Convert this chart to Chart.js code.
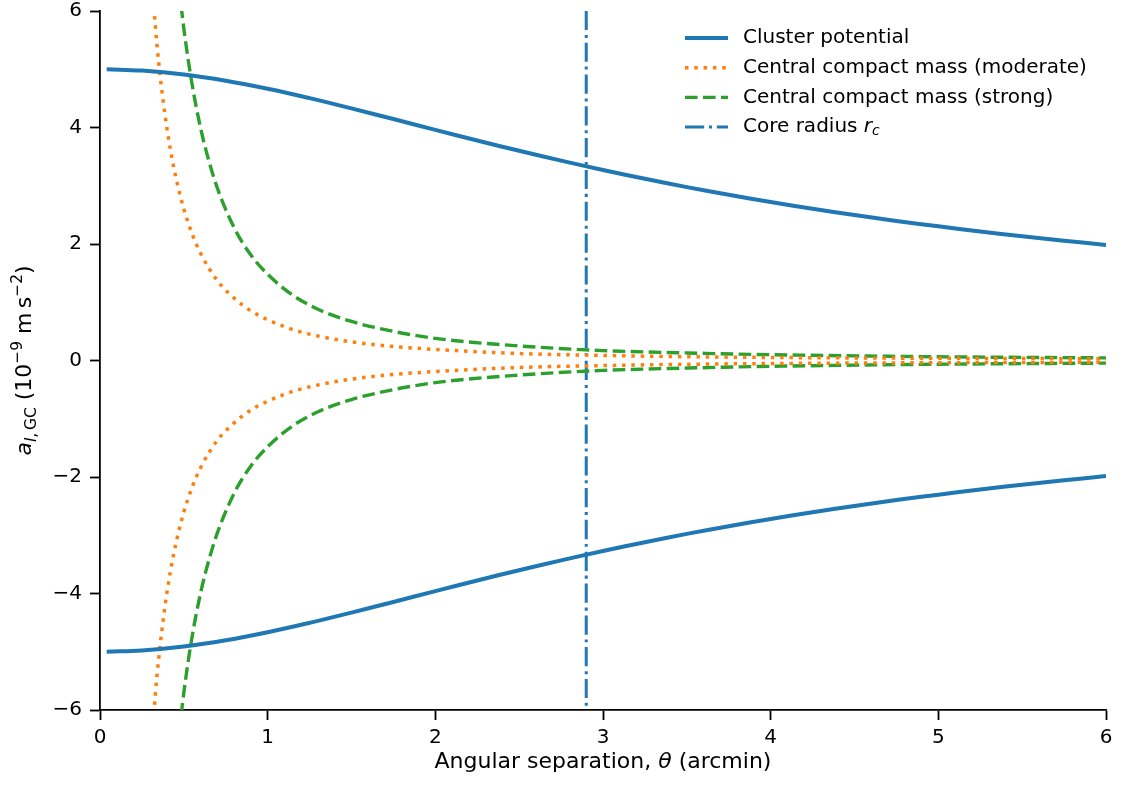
<!DOCTYPE html>
<html>
<head>
<meta charset="utf-8">
<title>Cluster acceleration vs angular separation</title>
<script src="https://cdn.jsdelivr.net/npm/chart.js@4.4.1/dist/chart.umd.min.js"></script>
<style>
    html, body { margin: 0; padding: 0; background: #fff; }
    #wrap { width: 1123px; height: 787px; }
</style>
</head>
<body>
<div id="wrap"><canvas id="accelChart" width="1123" height="787"></canvas></div>
<script>
// Cluster potential (upper branch, lower branch is its mirror)
const clusterTheta = [0.04, 0.25, 0.5, 0.75, 1.0, 1.25, 1.5, 1.75, 2.0, 2.25, 2.5, 2.75, 3.0,
    3.25, 3.5, 3.75, 4.0, 4.25, 4.5, 4.75, 5.0, 5.25, 5.5, 5.75, 6.0];
const clusterAccel = [5.000, 4.977, 4.910, 4.803, 4.665, 4.504, 4.328, 4.145, 3.960, 3.777, 3.600,
    3.431, 3.270, 3.119, 2.977, 2.844, 2.720, 2.605, 2.497, 2.396, 2.303, 2.215, 2.133, 2.056, 1.984];

// Central compact mass, moderate case
const moderateTheta = [0.30, 0.34, 0.38, 0.42, 0.46, 0.50, 0.55, 0.60, 0.70, 0.80, 0.90, 1.00,
    1.15, 1.30, 1.50, 1.75, 2.00, 2.50, 3.00, 3.50, 4.00, 5.00, 6.00];
const moderateAccel = [6.87, 5.41, 4.38, 3.62, 3.05, 2.60, 2.17, 1.84, 1.37, 1.07, 0.85, 0.70,
    0.53, 0.42, 0.32, 0.24, 0.19, 0.12, 0.087, 0.065, 0.052, 0.038, 0.030];

// Central compact mass, strong case
const strongTheta = [0.46, 0.50, 0.55, 0.60, 0.65, 0.70, 0.80, 0.90, 1.00, 1.15, 1.30, 1.50,
    1.75, 2.00, 2.50, 3.00, 3.50, 4.00, 5.00, 6.00];
const strongAccel = [6.71, 5.70, 4.73, 3.99, 3.42, 2.96, 2.28, 1.81, 1.48, 1.12, 0.88, 0.67,
    0.50, 0.38, 0.25, 0.17, 0.13, 0.10, 0.064, 0.045];

const coreRadius = 2.9;
const xRange = [0, 6];
const yRange = [-6, 6];

const BLUE = '#1f77b4';
const ORANGE = '#ff7f0e';
const GREEN = '#2ca02c';
const FONT = "'DejaVu Sans', sans-serif";

function toPoints(xs, ys, sign) {
    return xs.map((x, i) => ({ x: x, y: sign * ys[i] }));
}

function curve(data, color, width, dash, mode) {
    return {
        data: data,
        borderColor: color,
        borderWidth: width,
        borderDash: dash,
        pointRadius: 0,
        fill: false,
        tension: 0.4,
        cubicInterpolationMode: mode || 'monotone'
    };
}

const legendItems = [
    { text: [{ t: 'Cluster potential' }], color: BLUE, width: 4, dash: [] },
    { text: [{ t: 'Central compact mass (moderate)' }], color: ORANGE, width: 3.5, dash: [3.5, 5.8] },
    { text: [{ t: 'Central compact mass (strong)' }], color: GREEN, width: 3.4, dash: [12.6, 5.4] },
    { text: [{ t: 'Core radius ' }, { t: 'r', italic: true }, { t: 'c', italic: true, size: 14, dy: 4 }],
      color: BLUE, width: 3, dash: [19.2, 4.8, 3, 4.8] }
];

// draws a run of text pieces (italic / sub / superscript) one after another
function drawRuns(ctx, runs, x, y, baseSize, align) {
    let total = 0;
    runs.forEach(r => {
        ctx.font = (r.italic ? 'italic ' : '') + (r.size || baseSize) + 'px ' + FONT;
        r.w = ctx.measureText(r.t).width;
        total += r.w;
    });
    let cx = align === 'center' ? x - total / 2 : x;
    runs.forEach(r => {
        ctx.font = (r.italic ? 'italic ' : '') + (r.size || baseSize) + 'px ' + FONT;
        ctx.fillText(r.t, cx, y + (r.dy || 0));
        cx += r.w;
    });
}

const annotations = {
    id: 'annotations',
    afterDraw(chart) {
        const ctx = chart.ctx;
        const area = chart.chartArea;
        ctx.save();
        ctx.fillStyle = '#000';
        ctx.textBaseline = 'alphabetic';

        // x axis title
        drawRuns(ctx, [
            { t: 'Angular separation, ' },
            { t: '\u03b8', italic: true },
            { t: ' (arcmin)' }
        ], (area.left + area.right) / 2, 768, 22, 'center');

        // y axis title, rotated
        ctx.save();
        ctx.translate(31, (area.top + area.bottom) / 2);
        ctx.rotate(-Math.PI / 2);
        drawRuns(ctx, [
            { t: 'a', italic: true },
            { t: 'l', italic: true, size: 15.4, dy: 5 },
            { t: ',\u2009GC', size: 15.4, dy: 5 },
            { t: ' (10' },
            { t: '\u22129', size: 15.4, dy: -9 },
            { t: ' m\u2009s' },
            { t: '\u22122', size: 15.4, dy: -9 },
            { t: ')' }
        ], 0, 0, 22, 'center');
        ctx.restore();

        // legend
        const hx = 685, hLen = 43, tx = 743, y0 = 38, rowH = 29.7;
        legendItems.forEach((item, i) => {
            const y = y0 + i * rowH;
            ctx.save();
            ctx.strokeStyle = item.color;
            ctx.lineWidth = item.width;
            ctx.lineCap = 'butt';
            ctx.setLineDash(item.dash);
            ctx.beginPath();
            ctx.moveTo(hx, y);
            ctx.lineTo(hx + hLen, y);
            ctx.stroke();
            ctx.restore();
            ctx.textBaseline = 'middle';
            drawRuns(ctx, item.text, tx, y, 20, 'left');
        });
        ctx.restore();
    }
};

function axisStyle() {
    return {
        grid: {
            display: true,
            drawOnChartArea: false,
            drawTicks: true,
            tickLength: 10,
            tickWidth: 1.8,
            tickColor: '#000'
        },
        border: { display: true, color: '#000', width: 1.8 },
        ticks: {
            color: '#000',
            padding: 8,
            font: { family: FONT, size: 20, lineHeight: 1 }
        }
    };
}

const xAxis = axisStyle();
xAxis.type = 'linear';
xAxis.min = xRange[0];
xAxis.max = xRange[1];
xAxis.ticks.stepSize = 1;
xAxis.afterFit = scale => {
    scale.height = 77;
    scale.paddingLeft = 0;
    scale.paddingRight = 0;
};

const yAxis = axisStyle();
yAxis.min = yRange[0];
yAxis.max = yRange[1];
yAxis.ticks.stepSize = 2;
yAxis.ticks.callback = v => (v < 0 ? '\u2212' + Math.abs(v) : String(v));
yAxis.afterFit = scale => {
    scale.width = 100;
    scale.paddingTop = 0;
    scale.paddingBottom = 0;
};

new Chart(document.getElementById('accelChart'), {
    type: 'line',
    data: {
        datasets: [
            curve(toPoints(clusterTheta, clusterAccel, 1), BLUE, 4, [], 'default'),
            curve(toPoints(clusterTheta, clusterAccel, -1), BLUE, 4, [], 'default'),
            curve(toPoints(moderateTheta, moderateAccel, 1), ORANGE, 3.5, [3.5, 5.8]),
            curve(toPoints(moderateTheta, moderateAccel, -1), ORANGE, 3.5, [3.5, 5.8]),
            curve(toPoints(strongTheta, strongAccel, 1), GREEN, 3.4, [12.6, 5.4]),
            curve(toPoints(strongTheta, strongAccel, -1), GREEN, 3.4, [12.6, 5.4]),
            // core radius marker, drawn top to bottom so the dash pattern starts at the top
            curve([{ x: coreRadius, y: yRange[1] }, { x: coreRadius, y: yRange[0] }], BLUE, 3, [19.2, 4.8, 3, 4.8])
        ]
    },
    options: {
        responsive: false,
        devicePixelRatio: 1,
        animation: false,
        layout: { padding: { left: 0, right: 17, top: 11, bottom: 0 } },
        plugins: {
            legend: { display: false },
            tooltip: { enabled: false }
        },
        scales: { x: xAxis, y: yAxis }
    },
    plugins: [annotations]
});
</script>
</body>
</html>
